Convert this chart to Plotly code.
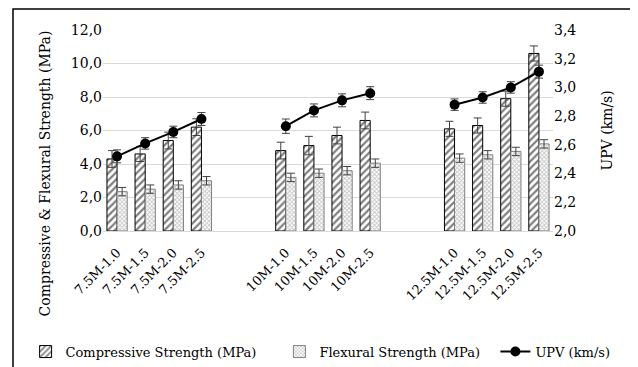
import plotly.graph_objects as go

categories = ["7.5M-1.0", "7.5M-1.5", "7.5M-2.0", "7.5M-2.5", " ", "  ",
              "10M-1.0", "10M-1.5", "10M-2.0", "10M-2.5", "   ", "    ",
              "12.5M-1.0", "12.5M-1.5", "12.5M-2.0", "12.5M-2.5"]
compressive = [4.3, 4.6, 5.4, 6.2, None, None, 4.8, 5.1, 5.7, 6.6, None, None, 6.1, 6.3, 7.9, 10.6]
compressive_err = [0.5, 0.45, 0.5, 0.5, None, None, 0.5, 0.55, 0.5, 0.5, None, None, 0.45, 0.45, 0.45, 0.45]
flexural = [2.35, 2.5, 2.75, 3.0, None, None, 3.2, 3.45, 3.6, 4.05, None, None, 4.35, 4.55, 4.75, 5.2]
flexural_err = [0.25, 0.25, 0.25, 0.25, None, None, 0.25, 0.25, 0.25, 0.25, None, None, 0.25, 0.25, 0.25, 0.25]
upv = [2.52, 2.61, 2.69, 2.78, None, None, 2.73, 2.84, 2.91, 2.96, None, None, 2.88, 2.93, 3.00, 3.11]
upv_err = [0.045, 0.04, 0.04, 0.045, None, None, 0.05, 0.045, 0.045, 0.045, None, None, 0.04, 0.04, 0.04, 0.045]

left_title = "Compressive & Flexural Strength (MPa)"
right_title = "UPV (km/s)"

FONT = "DejaVu Serif"
ERRC = "#404040"

fig = go.Figure()
fig.add_trace(go.Bar(
    x=categories, y=compressive, name="Compressive Strength (MPa)", legend="legend",
    marker=dict(color="white", line=dict(color="black", width=1),
                pattern=dict(shape="/", fgcolor="black", bgcolor="white", size=5, solidity=0.45)),
    error_y=dict(type="data", array=compressive_err, color=ERRC, thickness=1, width=4),
))
fig.add_trace(go.Bar(
    x=categories, y=flexural, name="Flexural Strength (MPa)", legend="legend2",
    marker=dict(color="white", line=dict(color="#808080", width=1),
                pattern=dict(shape="x", fgcolor="#8c8c8c", bgcolor="white", size=3, solidity=0.5)),
    error_y=dict(type="data", array=flexural_err, color=ERRC, thickness=1, width=4),
))
fig.add_trace(go.Scatter(
    x=categories, y=upv, name="UPV (km/s)", yaxis="y2", mode="lines+markers", legend="legend3",
    line=dict(color="black", width=2), marker=dict(color="black", size=10),
    connectgaps=False,
    error_y=dict(type="data", array=upv_err, color=ERRC, thickness=1, width=4),
))

leg_common = dict(orientation="h", xanchor="left", y=-0.6, yanchor="middle",
                  font=dict(family=FONT, size=13), itemwidth=30, bgcolor="rgba(0,0,0,0)")

fig.update_layout(
    width=638, height=367,
    margin=dict(l=95, r=93, t=22, b=144, autoexpand=False),
    paper_bgcolor="white", plot_bgcolor="white",
    separators=",.",
    barmode="group", bargap=0.28, bargroupgap=0,
    font=dict(family=FONT, size=14, color="black"),
    showlegend=True,
    legend=dict(x=-0.172, **leg_common),
    legend2=dict(x=0.392, **leg_common),
    legend3=dict(x=0.872, **leg_common),
    xaxis=dict(type="category", categoryorder="array", categoryarray=categories,
               range=[-0.5, len(categories) - 0.5], autorange=False,
               tickangle=-45, tickfont=dict(family=FONT, size=13), showgrid=False,
               ticklabelstandoff=8,
               showline=True, linecolor="#d9d9d9", linewidth=1, ticks="", automargin=False),
    yaxis=dict(range=[0, 12], dtick=2, tickformat=".1f", showgrid=True, gridcolor="#d9d9d9",
               zeroline=False, ticks="", tickfont=dict(family=FONT, size=14), automargin=False),
    yaxis2=dict(range=[2, 3.4], dtick=0.2, tickformat=".1f", overlaying="y", side="right",
                showgrid=False, zeroline=False, ticks="", tickfont=dict(family=FONT, size=14),
                automargin=False),
    annotations=[
        dict(text=left_title, textangle=-90, xref="paper", yref="paper", x=-0.13, y=0.284,
             xanchor="center", yanchor="middle", showarrow=False, font=dict(family=FONT, size=14)),
        dict(text=right_title, textangle=-90, xref="paper", yref="paper", x=1.118, y=0.50,
             xanchor="center", yanchor="middle", showarrow=False, font=dict(family=FONT, size=14)),
    ],
    shapes=[dict(type="rect", xref="paper", yref="paper", x0=-0.2, x1=1.184, y0=-0.75, y1=1.104,
                 line=dict(color="black", width=1.5), fillcolor="rgba(0,0,0,0)", layer="below")],
)

fig.write_html("out.html")
